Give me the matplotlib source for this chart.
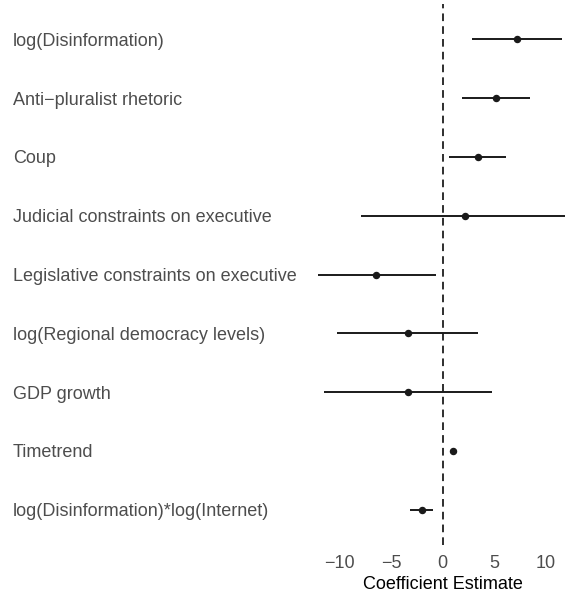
import matplotlib
matplotlib.use('Agg')
import matplotlib.pyplot as plt

plt.rcParams['font.family'] = ['Liberation Sans', 'DejaVu Sans']

# coefficient estimates with lower / upper interval bounds
terms = ['log(Disinformation)', 'Anti\u2212pluralist rhetoric', 'Coup',
         'Judicial constraints on executive', 'Legislative constraints on executive',
         'log(Regional democracy levels)', 'GDP growth', 'Timetrend',
         'log(Disinformation)*log(Internet)']
estimate = [7.18, 5.15, 3.38, 2.12, -6.41, -3.38, -3.38, 0.97, -2.03]
lower = [2.86, 1.90, 0.61, -7.92, -12.10, -10.20, -11.50, 0.90, -3.13]
upper = [11.53, 8.43, 6.15, 12.06, -0.68, 3.44, 4.76, 1.05, -0.97]
xticks = [-10, -5, 0, 5, 10]
xtick_labels = ['\u221210', '\u22125', '0', '5', '10']

W, H = 565, 596
fig = plt.figure(figsize=(W / 100, H / 100), dpi=100)
# panel runs a bit past the right edge, like the cropped original
ax = fig.add_axes([305 / W, 1 - 545 / H, (580 - 305) / W, (545 - 4) / H])

ypos = list(range(len(terms)))[::-1]
ax.axvline(0, color='black', lw=1.15, ls=(0, (4.8, 3.2)), zorder=1)
ax.hlines(ypos, lower, upper, color='#1a1a1a', lw=1.4, zorder=2)
ax.scatter(estimate, ypos, s=19, color='#1a1a1a', zorder=3)

ax.set_xlim(-13.31, 13.27)
ax.set_ylim(-0.6, len(terms) - 1 + 0.6)
ax.set_xticks(xticks)
ax.set_xticklabels(xtick_labels)
ax.set_yticks(ypos)
ax.set_yticklabels(terms, ha='left')
ax.tick_params(axis='y', length=0, pad=292 * 0.72, labelsize=13, labelcolor='#4d4d4d')
ax.tick_params(axis='x', length=0, pad=7, labelsize=13, labelcolor='#4d4d4d')
ax.set_xlabel('Coefficient Estimate', fontsize=13, labelpad=3)
for s in ax.spines.values():
    s.set_visible(False)
ax.set_facecolor('none')

fig.savefig('out.png', dpi=100)
